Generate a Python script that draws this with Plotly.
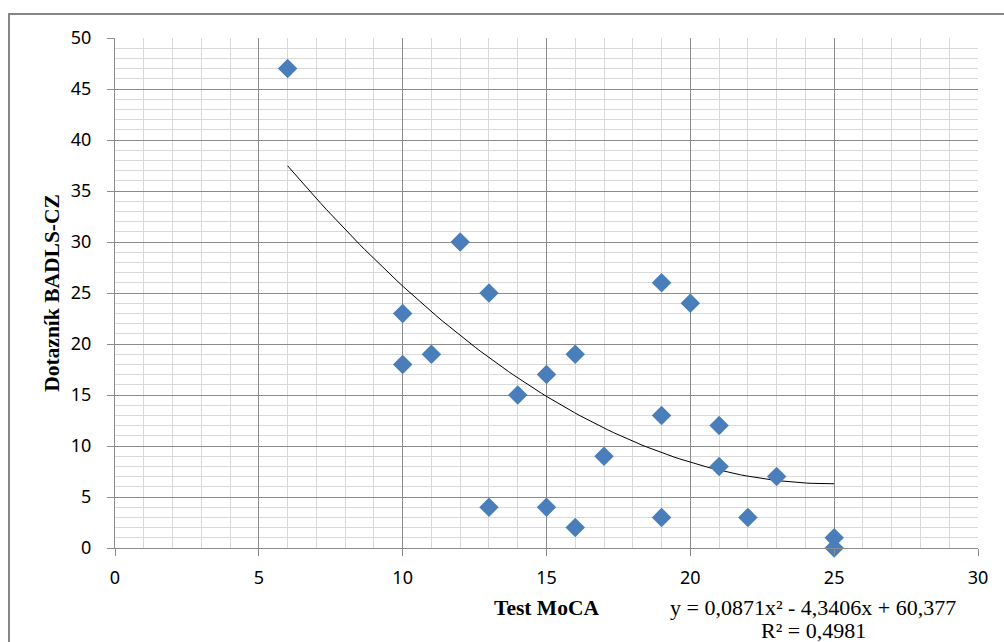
import numpy as np
import plotly.graph_objects as go

# Data
moca = [6, 10, 10, 11, 12, 13, 13, 14, 15, 15, 16, 16, 17, 19, 19, 19, 20, 21, 21, 22, 23, 25, 25]
badls = [47, 23, 18, 19, 30, 25, 4, 15, 17, 4, 19, 2, 9, 26, 13, 3, 24, 12, 8, 3, 7, 1, 0]

# Trendline coefficients as printed on the chart
trend_coef = [0.0871, -4.3406, 60.377]
eq_line = "y = 0,0871x² - 4,3406x + 60,377"
r2_line = "R² = 0,4981"

x_ticks = [0, 5, 10, 15, 20, 25, 30]
y_ticks = [0, 5, 10, 15, 20, 25, 30, 35, 40, 45, 50]

tx = np.linspace(min(moca), max(moca), 100)
ty = np.polyval(trend_coef, tx)

fig = go.Figure()
fig.add_trace(go.Scatter(
    x=tx, y=ty, mode="lines",
    line=dict(color="#000000", width=1),
    hoverinfo="skip", showlegend=False,
))
fig.add_trace(go.Scatter(
    x=moca, y=badls, mode="markers",
    marker=dict(symbol="diamond", size=15, color="#4A7EBB", line=dict(width=0)),
    cliponaxis=False, showlegend=False,
))

grid_major = "#8C8C8C"
grid_minor = "#D9D9D9"
tick_font = dict(family="Noto Sans, Open Sans, sans-serif", size=18, color="#000000")
title_font = dict(family="Liberation Serif, serif", size=21.5, color="#000000")

fig.update_xaxes(
    range=[0, 30], tickvals=x_ticks, ticktext=[str(v) for v in x_ticks],
    showgrid=True, gridcolor=grid_major, gridwidth=1,
    minor=dict(dtick=1, showgrid=True, gridcolor=grid_minor, gridwidth=1),
    showline=True, linecolor=grid_major, linewidth=1,
    ticks="outside", ticklen=7, tickcolor=grid_major,
    tickfont=tick_font, zeroline=False, ticklabelstandoff=6,
    title=dict(text="<b>Test MoCA</b>", font=title_font, standoff=12),
)
fig.update_yaxes(
    range=[0, 50], tickvals=y_ticks, ticktext=[str(v) for v in y_ticks],
    showgrid=True, gridcolor=grid_major, gridwidth=1,
    minor=dict(dtick=1, showgrid=True, gridcolor=grid_minor, gridwidth=1),
    showline=True, linecolor=grid_major, linewidth=1,
    ticks="outside", ticklen=7, tickcolor=grid_major,
    tickfont=tick_font, zeroline=False, ticklabelstandoff=12,
    title=dict(text="<b>Dotazník BADLS-CZ</b>", font=title_font, standoff=5),
)

# outer chart frame
fig.add_shape(type="rect", xref="paper", yref="paper",
              x0=(9 - 115) / 863, x1=(1010 - 115) / 863,
              y0=(548 - 700) / 510, y1=(548 - 14) / 510,
              line=dict(color="#868686", width=2), fillcolor="rgba(0,0,0,0)", layer="below")

eq_font = dict(family="Liberation Serif, serif", size=22, color="#000000")
fig.add_annotation(
    xref="paper", yref="paper",
    x=(813 - 115) / 863, y=(548 - 607) / 510,
    text=eq_line, showarrow=False, font=eq_font,
    xanchor="center", yanchor="middle",
)
fig.add_annotation(
    xref="paper", yref="paper",
    x=(813 - 115) / 863, y=(548 - 630) / 510,
    text=r2_line, showarrow=False, font=eq_font,
    xanchor="center", yanchor="middle",
)

fig.update_layout(
    width=1004, height=642,
    margin=dict(l=115, r=26, t=38, b=94),
    paper_bgcolor="#FFFFFF", plot_bgcolor="#FFFFFF",
    showlegend=False,
)

fig.write_html("out.html")
